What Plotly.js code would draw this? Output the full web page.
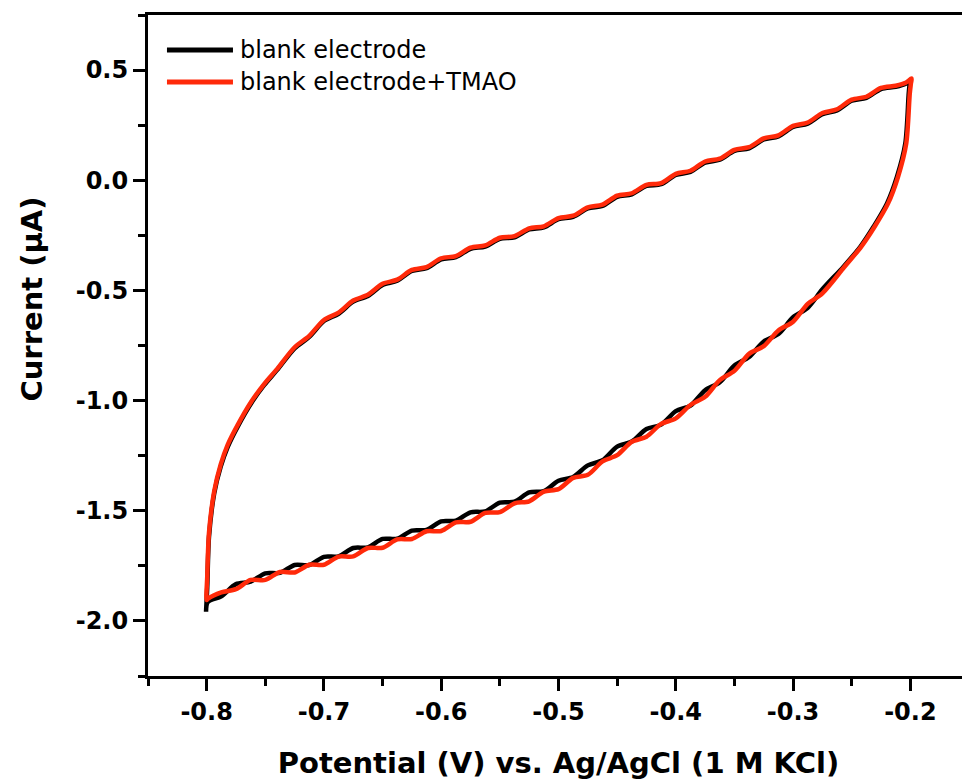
<!DOCTYPE html>
<html>
<head>
<meta charset="utf-8">
<script src="https://cdn.plot.ly/plotly-3.0.1.min.js"></script>
<style>
html, body { margin: 0; padding: 0; overflow: hidden; background: #fff; }
#chart { width: 970px; height: 783px; }
</style>
</head>
<body>
<div id="chart"></div>
<script>
// ---- Series: blank electrode (black); forward scan (-0.8 -> -0.2) then reverse scan ----
const blankV = [
  // forward (anodic) scan
  -0.8005, -0.7995, -0.798, -0.7935, -0.788, -0.782, -0.7735, -0.762, -0.751, -0.740,
  -0.7250, -0.7125, -0.7000, -0.6875, -0.6750, -0.6625, -0.6500, -0.6375, -0.6250, -0.6125,
  -0.6000, -0.5875, -0.5750, -0.5625, -0.5500, -0.5375, -0.5250, -0.5125, -0.5000, -0.4875,
  -0.4750, -0.4625, -0.4500, -0.4375, -0.4250, -0.4125, -0.4000, -0.3875, -0.3750, -0.3625,
  -0.3500, -0.3375, -0.3250, -0.3125, -0.3000, -0.2875, -0.2750, -0.2625, -0.2500, -0.2375,
  -0.2250, -0.2125, -0.204, -0.200,
  // reverse (cathodic) scan
  -0.2005, -0.2014, -0.2043, -0.2114, -0.2199, -0.2314, -0.2427, -0.257,
  -0.2750, -0.2875, -0.3000, -0.3125, -0.3250, -0.3375, -0.3500, -0.3625, -0.3750, -0.3875,
  -0.4000, -0.4125, -0.4250, -0.4375, -0.4500, -0.4625, -0.4750, -0.4875, -0.5000, -0.5125,
  -0.5250, -0.5375, -0.5500, -0.5625, -0.5750, -0.5875, -0.6000, -0.6125, -0.6250, -0.6375,
  -0.6500, -0.6625, -0.6750, -0.6875, -0.7000, -0.7125, -0.7250, -0.7375, -0.7500, -0.7625,
  -0.7750, -0.7875, -0.7991, -0.8005
];
const blankI = [
  -1.955, -1.85, -1.62, -1.42, -1.30, -1.21, -1.118, -1.012, -0.93, -0.862,
  -0.763, -0.711, -0.639, -0.606, -0.551, -0.525, -0.475, -0.456, -0.412, -0.399,
  -0.359, -0.349, -0.311, -0.301, -0.266, -0.259, -0.223, -0.214, -0.177, -0.166,
  -0.128, -0.116, -0.075, -0.064, -0.026, -0.018, 0.024, 0.038, 0.080, 0.093,
  0.133, 0.145, 0.185, 0.199, 0.242, 0.257, 0.300, 0.317, 0.361, 0.374,
  0.414, 0.424, 0.438, 0.455,
  0.44, 0.394, 0.167, 0.016, -0.105, -0.211, -0.302, -0.392,
  -0.495, -0.579, -0.622, -0.698, -0.732, -0.802, -0.841, -0.917, -0.953, -1.023,
  -1.048, -1.109, -1.129, -1.186, -1.209, -1.271, -1.294, -1.347, -1.364, -1.411,
  -1.417, -1.459, -1.463, -1.503, -1.507, -1.545, -1.548, -1.587, -1.590, -1.627,
  -1.628, -1.666, -1.669, -1.707, -1.709, -1.746, -1.746, -1.782, -1.784, -1.822,
  -1.833, -1.888, -1.915, -1.958
];

// ---- Series: blank electrode + TMAO (red) ----
const tmaoV = [
  -0.8000, -0.7995, -0.798, -0.7935, -0.788, -0.782, -0.7735, -0.762, -0.751, -0.740,
  -0.7250, -0.7125, -0.7000, -0.6875, -0.6750, -0.6625, -0.6500, -0.6375, -0.6250, -0.6125,
  -0.6000, -0.5875, -0.5750, -0.5625, -0.5500, -0.5375, -0.5250, -0.5125, -0.5000, -0.4875,
  -0.4750, -0.4625, -0.4500, -0.4375, -0.4250, -0.4125, -0.4000, -0.3875, -0.3750, -0.3625,
  -0.3500, -0.3375, -0.3250, -0.3125, -0.3000, -0.2875, -0.2750, -0.2625, -0.2500, -0.2375,
  -0.2250, -0.2125, -0.204, -0.199,
  -0.1995, -0.2005, -0.2035, -0.2105, -0.219, -0.2305, -0.242, -0.2565,
  -0.2750, -0.2875, -0.3000, -0.3125, -0.3250, -0.3375, -0.3500, -0.3625, -0.3750, -0.3875,
  -0.4000, -0.4125, -0.4250, -0.4375, -0.4500, -0.4625, -0.4750, -0.4875, -0.5000, -0.5125,
  -0.5250, -0.5375, -0.5500, -0.5625, -0.5750, -0.5875, -0.6000, -0.6125, -0.6250, -0.6375,
  -0.6500, -0.6625, -0.6750, -0.6875, -0.7000, -0.7125, -0.7250, -0.7375, -0.7500, -0.7625,
  -0.7750, -0.7875, -0.7991, -0.8000
];
const tmaoI = [
  -1.905, -1.80, -1.60, -1.41, -1.29, -1.20, -1.110, -1.005, -0.925, -0.857,
  -0.758, -0.706, -0.634, -0.601, -0.546, -0.520, -0.470, -0.451, -0.407, -0.394,
  -0.354, -0.344, -0.306, -0.296, -0.261, -0.254, -0.218, -0.209, -0.172, -0.161,
  -0.123, -0.111, -0.070, -0.059, -0.021, -0.013, 0.029, 0.043, 0.085, 0.098,
  0.138, 0.150, 0.190, 0.204, 0.247, 0.262, 0.305, 0.322, 0.366, 0.379,
  0.419, 0.429, 0.442, 0.462,
  0.44, 0.394, 0.167, 0.016, -0.105, -0.211, -0.302, -0.395,
  -0.513, -0.561, -0.642, -0.682, -0.753, -0.788, -0.865, -0.907, -0.983, -1.020,
  -1.081, -1.106, -1.164, -1.187, -1.248, -1.276, -1.337, -1.351, -1.402, -1.413,
  -1.457, -1.466, -1.506, -1.510, -1.550, -1.553, -1.592, -1.593, -1.628, -1.630,
  -1.668, -1.669, -1.707, -1.708, -1.745, -1.745, -1.780, -1.778, -1.814, -1.814,
  -1.856, -1.870, -1.900, -1.905
];

const seriesNames = ['blank electrode', 'blank electrode+TMAO'];
const seriesColors = ['#000000', '#ff2a0a'];

const xTickVals = [-0.8, -0.7, -0.6, -0.5, -0.4, -0.3, -0.2];
const xTickText = ['-0.8', '-0.7', '-0.6', '-0.5', '-0.4', '-0.3', '-0.2'];
const yTickVals = [0.5, 0.0, -0.5, -1.0, -1.5, -2.0];
const yTickText = ['0.5', '0.0', '-0.5', '-1.0', '-1.5', '-2.0'];

const xTitle = 'Potential (V) vs. Ag/AgCl (1 M KCl)';
const yTitle = 'Current (µA)';

const boldFont = 'DejaVu Sans, Liberation Sans, Arial, sans-serif';

const traces = [
  { x: blankV, y: blankI, mode: 'lines', name: seriesNames[0],
    line: { color: seriesColors[0], width: 4.5, shape: 'spline', smoothing: 0.8 }, showlegend: false },
  { x: tmaoV, y: tmaoI, mode: 'lines', name: seriesNames[1],
    line: { color: seriesColors[1], width: 4.5, shape: 'spline', smoothing: 0.8 }, showlegend: false }
];

const axisCommon = {
  showline: true, linewidth: 3, linecolor: '#000', mirror: true,
  showgrid: false, zeroline: false,
  ticks: 'outside', ticklen: 12, tickwidth: 3, tickcolor: '#000',
  tickmode: 'array',
  tickfont: { family: boldFont, size: 24, color: '#000', weight: 'bold' }
};

const layout = {
  width: 970, height: 783,
  margin: { l: 148, r: 1, t: 15, b: 107 },
  paper_bgcolor: '#fff', plot_bgcolor: '#fff',
  showlegend: false,
  xaxis: Object.assign({}, axisCommon, {
    range: [-0.85, -0.15],
    tickvals: xTickVals, ticktext: xTickText,
    minor: { tickmode: 'linear', tick0: -0.85, dtick: 0.05, ticks: 'outside', ticklen: 7, tickwidth: 3, tickcolor: '#000', showgrid: false },
    title: { text: xTitle, standoff: 28,
      font: { family: boldFont, size: 29, color: '#000', weight: 'bold' } }
  }),
  yaxis: Object.assign({}, axisCommon, {
    range: [-2.25, 0.75],
    tickvals: yTickVals, ticktext: yTickText,
    minor: { tickmode: 'linear', tick0: -2.25, dtick: 0.25, ticks: 'outside', ticklen: 7, tickwidth: 3, tickcolor: '#000', showgrid: false }
  }),
  annotations: [
    { xref: 'paper', yref: 'paper', x: -0.1413, y: 0.571, text: yTitle, textangle: -90,
      showarrow: false, xanchor: 'center', yanchor: 'middle',
      font: { family: boldFont, size: 29, color: '#000', weight: 'bold' } },
    { xref: 'paper', yref: 'paper', x: 0.110, y: 0.947, text: seriesNames[0],
      showarrow: false, xanchor: 'left', yanchor: 'middle',
      font: { family: 'DejaVu Sans, sans-serif', size: 24, color: '#000' } },
    { xref: 'paper', yref: 'paper', x: 0.110, y: 0.8986, text: seriesNames[1],
      showarrow: false, xanchor: 'left', yanchor: 'middle',
      font: { family: 'DejaVu Sans, sans-serif', size: 24, color: '#000' } }
  ],
  shapes: [
    { type: 'line', xref: 'paper', yref: 'paper', x0: 0.0231, x1: 0.1035, y0: 0.947, y1: 0.947,
      line: { color: seriesColors[0], width: 5 } },
    { type: 'line', xref: 'paper', yref: 'paper', x0: 0.0231, x1: 0.1035, y0: 0.8986, y1: 0.8986,
      line: { color: seriesColors[1], width: 5 } }
  ]
};

Plotly.newPlot('chart', traces, layout, { displayModeBar: false, staticPlot: true });
</script>
</body>
</html>
